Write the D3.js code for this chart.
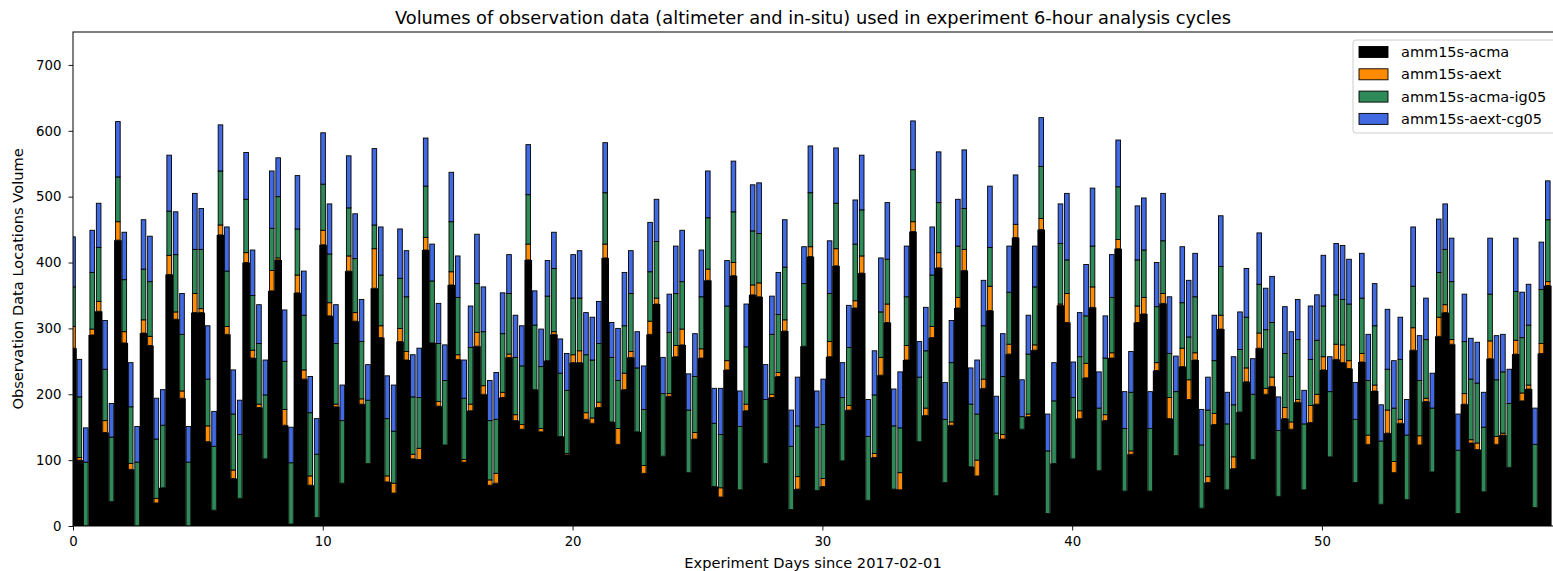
<!DOCTYPE html>
<html><head><meta charset="utf-8">
<script src="https://cdn.jsdelivr.net/npm/d3@7"></script>
<style>
body{margin:0;background:#fff}
svg{display:block}
text{font-family:"DejaVu Sans",sans-serif;fill:#000}
</style>
</head><body>
<svg id="chart" width="1553" height="571"></svg>
<script>
// ---------- data ----------
const seriesNames = ["amm15s-acma","amm15s-aext","amm15s-acma-ig05","amm15s-aext-cg05"];
const seriesColors = ["#000000","#ff8c00","#2e8b57","#4169e1"];

const acma = [270,100,0,290,326,142,37,434,278,86, 0,293,274,35,58,382,314,194,0,324,
 324,128,24,442,291,72,42,400,255,180, 102,357,404,153,3,354,223,62,13,427,
 319,181,65,387,311,185,95,361,286,67, 50,280,252,102,101,419,278,182,123,366,
 253,97,175,273,200,62,65,195,256,160, 147,404,207,143,251,291,136,108,248,248,
 162,156,180,407,158,124,207,256,143,80, 291,337,106,197,257,275,81,132,255,373,
 60,44,237,380,55,175,351,348,95,195, 227,296,25,56,273,409,54,60,257,395,
 99,176,331,384,39,104,229,309,56,55, 252,447,128,168,286,392,66,153,331,388,
 90,76,209,327,46,132,261,438,147,166, 267,450,19,95,335,309,102,163,225,332,
 84,160,255,421,53,109,309,322,53,236, 338,163,107,242,192,252,27,66,154,299,
 55,87,173,219,101,270,200,212,45,163, 147,188,55,157,185,237,105,253,248,239,
 66,249,124,205,33,141,81,156,40,267, 123,189,82,288,324,276,19,185,126,116,
 52,254,124,138,89,261,190,208,28,262, 365];

const aext = [33,4,0,9,15,18,0,28,17,9, 0,20,14,7,0,29,11,11,0,29,
 6,24,0,15,12,13,0,15,12,5, 0,31,3,24,0,27,14,14,0,22,
 20,4,0,23,13,8,0,60,18,9, 15,20,13,7,17,19,0,7,0,20,
 7,4,10,21,13,8,15,8,5,9, 7,24,0,5,0,4,0,2,12,18,
 10,8,8,21,0,24,25,9,0,12, 20,9,0,4,17,24,0,10,14,17,
 0,14,14,20,0,10,15,21,0,5, 6,17,0,19,0,15,0,12,23,26,
 0,7,11,26,0,6,27,28,0,26, 22,15,0,11,17,23,0,5,16,32,
 0,24,14,37,0,7,15,20,0,4, 8,17,0,0,2,44,0,12,22,31,
 0,9,8,14,0,5,25,25,0,12, 15,32,0,28,30,11,0,9,17,21,
 0,18,0,21,0,23,9,14,0,17, 11,4,0,26,15,20,0,23,27,12,
 0,13,14,9,0,35,17,6,0,34, 14,5,0,29,12,7,0,16,5,10,
 0,27,12,3,0,21,12,6,0,15, 6];

const acmaIg05 = [60,92,97,86,82,78,98,68,79,86, 97,77,83,90,95,67,87,86,97,67,
 90,71,97,82,84,85,97,81,83,92, 97,64,93,73,93,70,83,96,96,70,
 74,92,95,73,82,87,96,36,77,87, 79,76,83,87,77,78,94,88,98,76,
 87,93,86,74,82,90,82,89,92,87, 89,75,98,94,98,96,96,96,86,80,
 88,88,89,78,98,73,72,88,97,85, 75,86,95,93,79,72,95,85,79,78,
 96,81,83,77,96,87,82,75,97,91, 88,80,96,77,95,82,96,82,73,69,
 96,88,86,70,97,89,69,68,96,68, 74,79,98,87,78,76,96,90,78,62,
 95,70,81,59,95,88,79,0,19,91, 88,79,95,95,92,51,93,82,72,62,
 95,86,84,80,95,89,70,72,95,85, 80,67,97,69,65,85,96,101,80,74,
 100,79,95,77,99,74,89,83,100,82, 69,91,100,70,82,77,99,75,69,86,
 96,84,83,90,96,62,81,91,98,63, 84,89,97,68,84,88,96,79,92,91,
 98,71,86,93,97,74,84,91,96,82, 94];

const aextCg05 = [76,57,52,64,67,74,51,84,72,67, 54,75,69,62,54,85,65,62,54,85,
 62,81,53,70,67,67,52,71,69,59, 53,87,59,78,54,81,67,55,54,78,
 76,59,54,79,68,64,54,116,73,65, 70,75,70,64,75,73,56,61,54,75,
 63,58,63,75,68,61,71,62,59,64, 61,76,52,57,54,55,52,56,66,72,
 64,65,64,76,53,79,81,65,55,66, 75,64,55,58,72,78,55,65,71,71,
 53,70,69,77,54,65,70,77,53,58, 64,72,55,74,56,71,55,69,80,84,
 53,64,67,83,56,67,82,86,56,85, 77,74,54,66,73,77,56,64,71,89,
 55,82,69,93,56,65,70,75,56,59, 62,74,56,58,60,101,54,67,78,88,
 55,64,65,71,56,62,82,79,56,67, 72,86,54,85,86,66,54,50,69,77,
 48,73,57,74,54,78,63,70,51,71, 68,61,51,81,69,77,53,78,82,68,
 56,68,70,64,55,91,72,64,54,90, 68,63,53,81,69,66,55,72,62,62,
 53,85,67,57,52,81,69,62,55,72, 59];

const xTicks = [0,10,20,30,40,50];
const yTicks = [0,100,200,300,400,500,600,700];
const cycleStep = 0.2567;           // spacing of analysis cycles along the day axis
const xDomain = [0, 59.33];
const yDomain = [0, 750];

const titleText = "Volumes of observation data (altimeter and in-situ) used in experiment 6-hour analysis cycles";
const xLabel = "Experiment Days since 2017-02-01";
const yLabel = "Observation Data Locations Volume";

// ---------- layout ----------
const svg = d3.select("#chart");
const L = 73, R = 1555, T = 32, B = 526;
const x = d3.scaleLinear().domain(xDomain).range([L, R]);
const y = d3.scaleLinear().domain(yDomain).range([B, T]);

const cycles = acma.map((v, i) => ({ x: i * cycleStep, vals: [v, aext[i], acmaIg05[i], aextCg05[i]] }));

svg.append("defs").append("clipPath").attr("id", "plotclip")
  .append("rect").attr("x", L).attr("y", T).attr("width", R - L).attr("height", B - T);

const g = svg.append("g").attr("clip-path", "url(#plotclip)");
const stepPx = x(cycleStep) - x(0);

// black acma bars (full step wide, merging into a silhouette)
g.selectAll("rect.acma").data(cycles).join("rect")
  .attr("class", "acma")
  .attr("x", d => x(d.x) - stepPx / 2 - 0.6)
  .attr("width", stepPx + 1.2)
  .attr("y", d => y(d.vals[0]))
  .attr("height", d => y(0) - y(d.vals[0]))
  .attr("fill", seriesColors[0]);

// stacked coloured segments
const segs = [];
cycles.forEach(d => {
  let base = d.vals[0];
  for (let s = 1; s < 4; s++) {
    const v = d.vals[s];
    if (v > 0) segs.push({ x: d.x, y0: base, y1: base + v, s });
    base += v;
  }
});
const cw = stepPx * 0.72;
g.selectAll("rect.seg").data(segs).join("rect")
  .attr("class", "seg")
  .attr("x", d => x(d.x) - cw / 2)
  .attr("width", cw)
  .attr("y", d => y(d.y1))
  .attr("height", d => y(d.y0) - y(d.y1))
  .attr("fill", d => seriesColors[d.s])
  .attr("stroke", "#000")
  .attr("stroke-width", 0.9);

// ---------- axes ----------
const xAxis = svg.append("g").attr("transform", `translate(0,${B})`)
  .call(d3.axisBottom(x).tickValues(xTicks).tickSize(4.5).tickPadding(6).tickFormat(d3.format("d")));
const yAxis = svg.append("g").attr("transform", `translate(${L},0)`)
  .call(d3.axisLeft(y).tickValues(yTicks).tickSize(4.5).tickPadding(7).tickFormat(d3.format("d")));
[xAxis, yAxis].forEach(a => {
  a.select(".domain").remove();
  a.selectAll("line").attr("stroke", "#000").attr("stroke-width", 0.9);
  a.selectAll("text").style("font-family", '"DejaVu Sans",sans-serif').style("font-size", "13.3px").attr("fill", "#000");
});

// frame
svg.append("rect").attr("x", L).attr("y", T).attr("width", R - L).attr("height", B - T)
  .attr("fill", "none").attr("stroke", "#000").attr("stroke-width", 1);

// ---------- texts ----------
svg.append("text").attr("x", (L + 1553) / 2).attr("y", 24).attr("text-anchor", "middle")
  .style("font-size", "17.8px").text(titleText);
svg.append("text").attr("x", (L + 1553) / 2).attr("y", 568).attr("text-anchor", "middle")
  .style("font-size", "14.6px").text(xLabel);
svg.append("text").attr("transform", `translate(23,${(T + B) / 2}) rotate(-90)`).attr("text-anchor", "middle")
  .style("font-size", "14.6px").text(yLabel);

// ---------- legend ----------
const lg = svg.append("g");
lg.append("rect").attr("x", 1353).attr("y", 40).attr("width", 210).attr("height", 93).attr("rx", 3)
  .attr("fill", "#fff").attr("fill-opacity", 0.85).attr("stroke", "#cccccc");
seriesNames.forEach((n, i) => {
  const cy = 52 + i * 22.3;
  lg.append("rect").attr("x", 1359).attr("y", cy - 5.5).attr("width", 29).attr("height", 11)
    .attr("fill", seriesColors[i]).attr("stroke", "#000").attr("stroke-width", 0.9);
  lg.append("text").attr("x", 1401).attr("y", cy).attr("dy", "0.35em")
    .style("font-size", "14.5px").text(n);
});
</script>
</body></html>
